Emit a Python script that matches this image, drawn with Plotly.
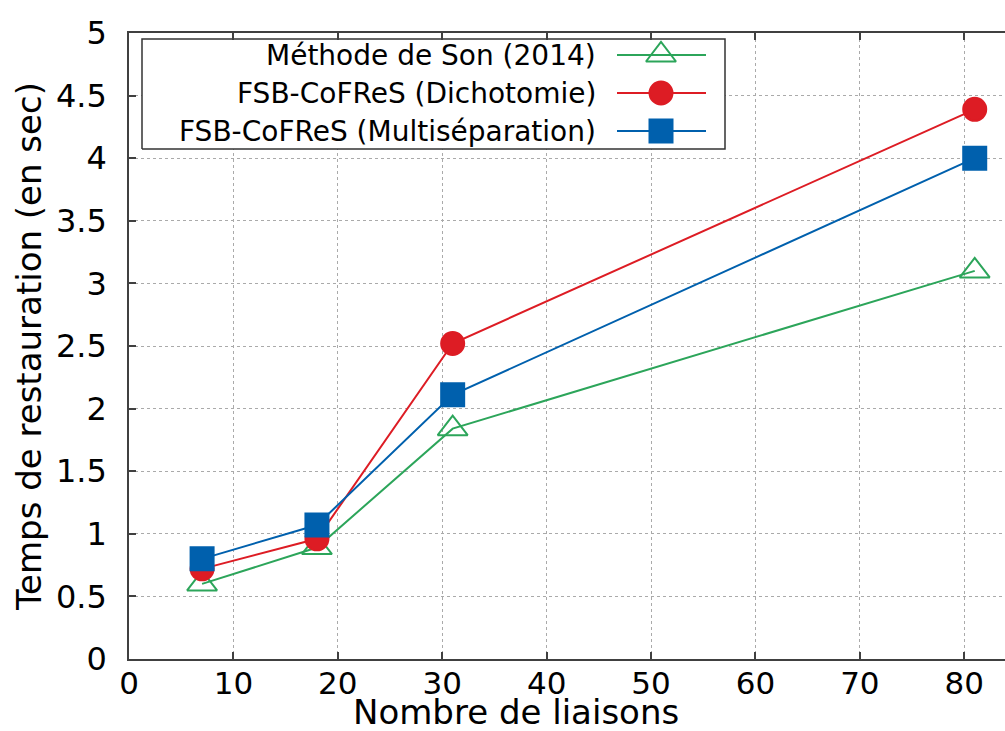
import plotly.graph_objects as go

# ---- data ----
liaisons = [7, 18, 31, 81]
son_2014 = [0.6, 0.89, 1.84, 3.1]
dichotomie = [0.72, 0.96, 2.52, 4.39]
multisep = [0.8, 1.07, 2.11, 4.0]

series_names = ["Méthode de Son (2014)", "FSB-CoFReS (Dichotomie)", "FSB-CoFReS (Multiséparation)"]
x_ticks = [0, 10, 20, 30, 40, 50, 60, 70, 80]
y_ticks = [0, 0.5, 1, 1.5, 2, 2.5, 3, 3.5, 4, 4.5, 5]
x_title = "Nombre de liaisons"
y_title = "Temps de restauration (en sec)"

GREEN = "#2ca55a"
RED = "#dd1c24"
BLUE = "#0060ad"
FONT = "DejaVu Sans"

series = [
    (son_2014, GREEN, "triangle-up-open", 26),
    (dichotomie, RED, "circle", 23),
    (multisep, BLUE, "square", 23),
]

fig = go.Figure()
for (vals, col, sym, sz), name in zip(series, series_names):
    fig.add_trace(go.Scatter(
        x=liaisons, y=vals, mode="lines+markers", name=name,
        line=dict(color=col, width=2),
        marker=dict(symbol=sym, size=sz, color=col, opacity=1, line=dict(color=col, width=2)),
        showlegend=False, xaxis="x", yaxis="y"))

# ---- custom legend (overlay axes in pixel units of the plot area) ----
W, H = 876, 626
bx0, bx1, by0, by1 = 13, 596, 510, 620
fig.add_trace(go.Scatter(
    x=[bx0, bx1, bx1, bx0, bx0], y=[by0, by0, by1, by1, by0],
    mode="lines", fill="toself", fillcolor="white",
    line=dict(color="#333333", width=1.5), hoverinfo="skip",
    showlegend=False, xaxis="x2", yaxis="y2"))
rows = [604, 566, 528]
for (vals, col, sym, sz), name, ry in zip(series, series_names, rows):
    fig.add_trace(go.Scatter(
        x=[488, 577], y=[ry, ry], mode="lines",
        line=dict(color=col, width=2),
        hoverinfo="skip", showlegend=False, xaxis="x2", yaxis="y2"))
    fig.add_trace(go.Scatter(
        x=[532], y=[ry], mode="markers",
        marker=dict(symbol=sym, size=sz, color=col, opacity=1, line=dict(color=col, width=2)),
        hoverinfo="skip", showlegend=False, xaxis="x2", yaxis="y2"))
    fig.add_annotation(x=469, y=ry, xref="x2", yref="y2", text=name, showarrow=False,
                       xanchor="right", yanchor="middle",
                       font=dict(family=FONT, size=28, color="black"))

# x-axis title as annotation (centred as in the reference, below the tick labels)
fig.add_annotation(x=516 - 129, xref="x2", y=-0.084, yref="paper", text=x_title, showarrow=False,
                   xanchor="center", yanchor="middle", borderpad=0,
                   font=dict(family=FONT, size=34, color="black"))

axis_line = "#404040"
fig.update_layout(
    width=1005, height=731,
    margin=dict(l=129, r=0, t=33, b=72),
    paper_bgcolor="white", plot_bgcolor="white",
    font=dict(family=FONT, color="black"),
    xaxis=dict(
        range=[0, 83.9], tickvals=x_ticks, ticks="inside", ticklen=7, tickwidth=1.5,
        tickcolor=axis_line, showline=True, linecolor=axis_line, linewidth=1.5,
        mirror="ticks", showgrid=True, gridcolor="#aaaaaa", griddash="dot", gridwidth=1,
        zeroline=False, tickfont=dict(size=31, family=FONT), ticklabelstandoff=-4),
    yaxis=dict(
        range=[0, 5], tickvals=y_ticks, ticktext=[f"{v:g}" for v in y_ticks],
        ticks="inside", ticklen=7, tickwidth=1.5, tickcolor=axis_line,
        showline=True, linecolor=axis_line, linewidth=1.5, mirror=False,
        showgrid=True, gridcolor="#aaaaaa", griddash="dot", gridwidth=1, zeroline=False,
        tickfont=dict(size=32, family=FONT), ticklabelstandoff=14,
        title=dict(text=y_title, font=dict(size=34, family=FONT), standoff=4)),
    xaxis2=dict(range=[0, W], overlaying="x", visible=False, fixedrange=True),
    yaxis2=dict(range=[0, H], overlaying="y", visible=False, fixedrange=True),
)

fig.write_html("out.html")
